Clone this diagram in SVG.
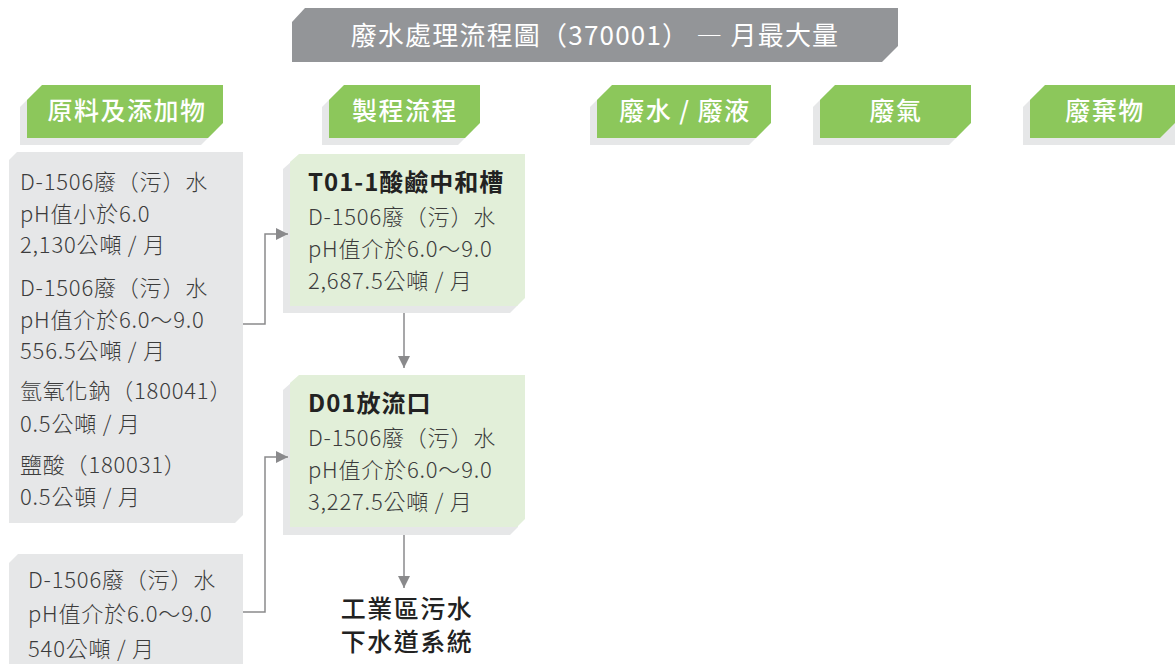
<svg xmlns="http://www.w3.org/2000/svg" width="1175" height="664" viewBox="0 0 1175 664">
<defs>
<style>
.t{font-family:"Noto Sans CJK TC","Noto Sans",sans-serif;}
.hdr{fill:#8cc75b;}
.shd{fill:#e6e7e8;}
.ht{font-size:25px;fill:#ffffff;text-anchor:middle;font-weight:500;letter-spacing:1.5px;}
.body{font-size:22px;fill:#3c3c3c;font-weight:300;letter-spacing:0.8px;}
.bold{font-size:24px;fill:#222222;font-weight:700;letter-spacing:1px;}
.gbox{fill:#e2efd9;}
.conn{fill:none;stroke:#8a8a8c;stroke-width:1.5;}
</style>
<marker id="arr" viewBox="0 0 10 10" refX="10" refY="5" markerWidth="12" markerHeight="12" markerUnits="userSpaceOnUse" orient="auto">
<path d="M0,0 L10,5 L0,10 Z" fill="#8a8a8c"/>
</marker>
</defs>
<rect width="1175" height="664" fill="#ffffff"/>

<g id="title">
<path d="M305,8 L898,8 L898,46 L882,62 L292,62 L292,22 Z" fill="#939598"/>
<text class="t" x="595" y="45" font-size="26" fill="#ffffff" text-anchor="middle" letter-spacing="1.2">廢水處理流程圖（370001） ― 月最大量</text>
</g>

<g id="hdr-materials">
<path class="shd" d="M35,92 L216,92 L216,130 L201,145 L20,145 L20,107 Z"/>
<path class="hdr" d="M42,85 L223,85 L223,123 L208,138 L27,138 L27,100 Z"/>
<text class="t ht" x="127" y="120">原料及添加物</text>
</g>

<g id="hdr-process">
<path class="shd" d="M337,92 L473,92 L473,130 L458,145 L322,145 L322,107 Z"/>
<path class="hdr" d="M344,85 L480,85 L480,123 L465,138 L329,138 L329,100 Z"/>
<text class="t ht" x="405" y="120">製程流程</text>
</g>

<g id="hdr-wastewater">
<path class="shd" d="M605,92 L764,92 L764,130 L749,145 L590,145 L590,107 Z"/>
<path class="hdr" d="M612,85 L771,85 L771,123 L756,138 L597,138 L597,100 Z"/>
<text class="t ht" x="685" y="120">廢水 / 廢液</text>
</g>

<g id="hdr-gas">
<path class="shd" d="M828,92 L964,92 L964,130 L949,145 L813,145 L813,107 Z"/>
<path class="hdr" d="M835,85 L971,85 L971,123 L956,138 L820,138 L820,100 Z"/>
<text class="t ht" x="896" y="120">廢氣</text>
</g>

<g id="hdr-waste">
<path class="shd" d="M1038,92 L1175,92 L1175,145 L1023,145 L1023,107 Z"/>
<path class="hdr" d="M1045,85 L1175,85 L1175,123 L1160,138 L1030,138 L1030,100 Z"/>
<text class="t ht" x="1105" y="120">廢棄物</text>
</g>

<g id="box-inputs-1">
<path class="shd" d="M17,152 L243,152 L243,515 L235,523 L9,523 L9,160 Z"/>
<text class="t body" x="20" y="190">D-1506廢（污）水</text>
<text class="t body" x="20" y="222">pH值小於6.0</text>
<text class="t body" x="20" y="253">2,130公噸 / 月</text>
<text class="t body" x="20" y="296">D-1506廢（污）水</text>
<text class="t body" x="20" y="328">pH值介於6.0～9.0</text>
<text class="t body" x="20" y="359">556.5公噸 / 月</text>
<text class="t body" x="20" y="399">氫氧化鈉（180041）</text>
<text class="t body" x="20" y="432">0.5公噸 / 月</text>
<text class="t body" x="20" y="473">鹽酸（180031）</text>
<text class="t body" x="20" y="505">0.5公頓 / 月</text>
</g>

<g id="box-inputs-2">
<path class="shd" d="M18,554 L243,554 L243,664 L9,664 L9,563 Z"/>
<text class="t body" x="28" y="588">D-1506廢（污）水</text>
<text class="t body" x="28" y="622">pH值介於6.0～9.0</text>
<text class="t body" x="28" y="657">540公噸 / 月</text>
</g>

<g id="node-t01">
<path class="shd" d="M292,161 L518,161 L518,305 L510,313 L283,313 L283,169 Z"/>
<path class="gbox" d="M299,154 L525,154 L525,298 L517,306 L290,306 L290,162 Z"/>
<text class="t bold" x="308" y="191">T01-1酸鹼中和槽</text>
<text class="t body" x="308" y="225">D-1506廢（污）水</text>
<text class="t body" x="308" y="257">pH值介於6.0～9.0</text>
<text class="t body" x="308" y="289">2,687.5公噸 / 月</text>
</g>

<g id="node-d01">
<path class="shd" d="M292,382 L518,382 L518,527 L510,535 L283,535 L283,390 Z"/>
<path class="gbox" d="M299,375 L525,375 L525,519 L517,527 L290,527 L290,383 Z"/>
<text class="t bold" x="308" y="412">D01放流口</text>
<text class="t body" x="308" y="446">D-1506廢（污）水</text>
<text class="t body" x="308" y="478">pH值介於6.0～9.0</text>
<text class="t body" x="308" y="510">3,227.5公噸 / 月</text>
</g>

<g id="node-sewer">
<text class="t" x="407" y="618" font-size="25" fill="#222222" text-anchor="middle" font-weight="500" letter-spacing="1.5">工業區污水</text>
<text class="t" x="407" y="651" font-size="25" fill="#222222" text-anchor="middle" font-weight="500" letter-spacing="1.5">下水道系統</text>
</g>

<g id="connectors">
<polyline class="conn" points="243,324 265,324 265,234 288,234" marker-end="url(#arr)"/>
<polyline class="conn" points="243,612 265,612 265,457 288,457" marker-end="url(#arr)"/>
<line class="conn" x1="404" y1="313" x2="404" y2="368" marker-end="url(#arr)"/>
<line class="conn" x1="404" y1="535" x2="404" y2="588" marker-end="url(#arr)"/>
</g>
</svg>
